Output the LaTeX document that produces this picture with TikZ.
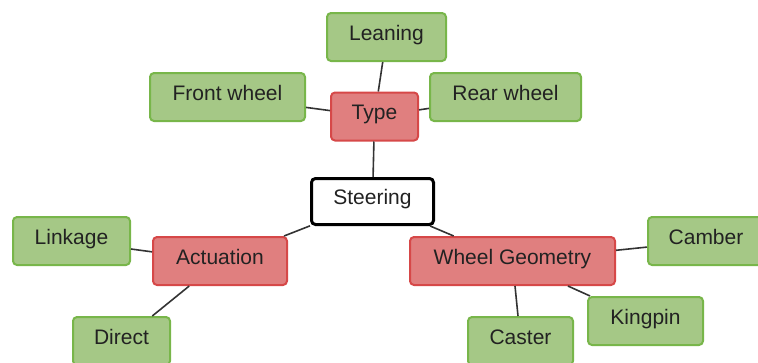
\documentclass[tikz,border=0pt]{standalone}
\usepackage{fontspec}
\setmainfont{Liberation Sans}
\definecolor{gfill}{HTML}{A5C886}
\definecolor{gline}{HTML}{78B64A}
\definecolor{rfill}{HTML}{E07F7F}
\definecolor{rline}{HTML}{D64848}
\definecolor{txt}{HTML}{222222}
\begin{document}
\begin{tikzpicture}[x=1pt,y=-1pt,
  box/.style={rectangle, rounded corners=4pt, line width=2pt, inner sep=0pt,
    minimum height=48pt, text height=15pt, text depth=8.5pt, text=txt,
    font=\fontsize{21}{24}\selectfont},
  leaf/.style={box, fill=gfill, draw=gline},
  cat/.style={box, fill=rfill, draw=rline},
  root/.style={box, fill=white, draw=black, line width=3pt, minimum height=46pt},
  link/.style={draw=black!80, line width=1.6pt}]
\useasboundingbox (0,0) rectangle (758,362);
\node[root, minimum width=122pt] (st) at (372.5,201.5) {Steering};
\node[cat, minimum width=87pt] (ty) at (374.5,116.5) {Type};
\node[leaf, minimum width=119pt] (le) at (386.5,37) {Leaning};
\node[leaf, minimum width=155pt] (fw) at (227.5,97) {Front wheel};
\node[leaf, minimum width=151pt] (rw) at (505.5,97) {Rear wheel};
\node[cat, minimum width=134pt] (ac) at (220,261) {Actuation};
\node[leaf, minimum width=117pt] (li) at (71.5,241) {Linkage};
\node[leaf, minimum width=97pt] (di) at (121.5,341) {Direct};
\node[cat, minimum width=205pt] (wg) at (512.5,261) {Wheel Geometry};
\node[leaf, minimum width=116pt] (ca) at (706,241) {Camber};
\node[leaf, minimum width=115pt] (ki) at (645.5,321) {Kingpin};
\node[leaf, minimum width=105pt] (cs) at (520.5,341) {Caster};
\draw[link] (st) -- (ty);
\draw[link] (ty) -- (le);
\draw[link] (ty) -- (fw);
\draw[link] (ty) -- (rw);
\draw[link] (st) -- (ac);
\draw[link] (ac) -- (li);
\draw[link] (ac) -- (di);
\draw[link] (st) -- (wg);
\draw[link] (wg) -- (ca);
\draw[link] (wg) -- (ki);
\draw[link] (wg) -- (cs);
\end{tikzpicture}
\end{document}
